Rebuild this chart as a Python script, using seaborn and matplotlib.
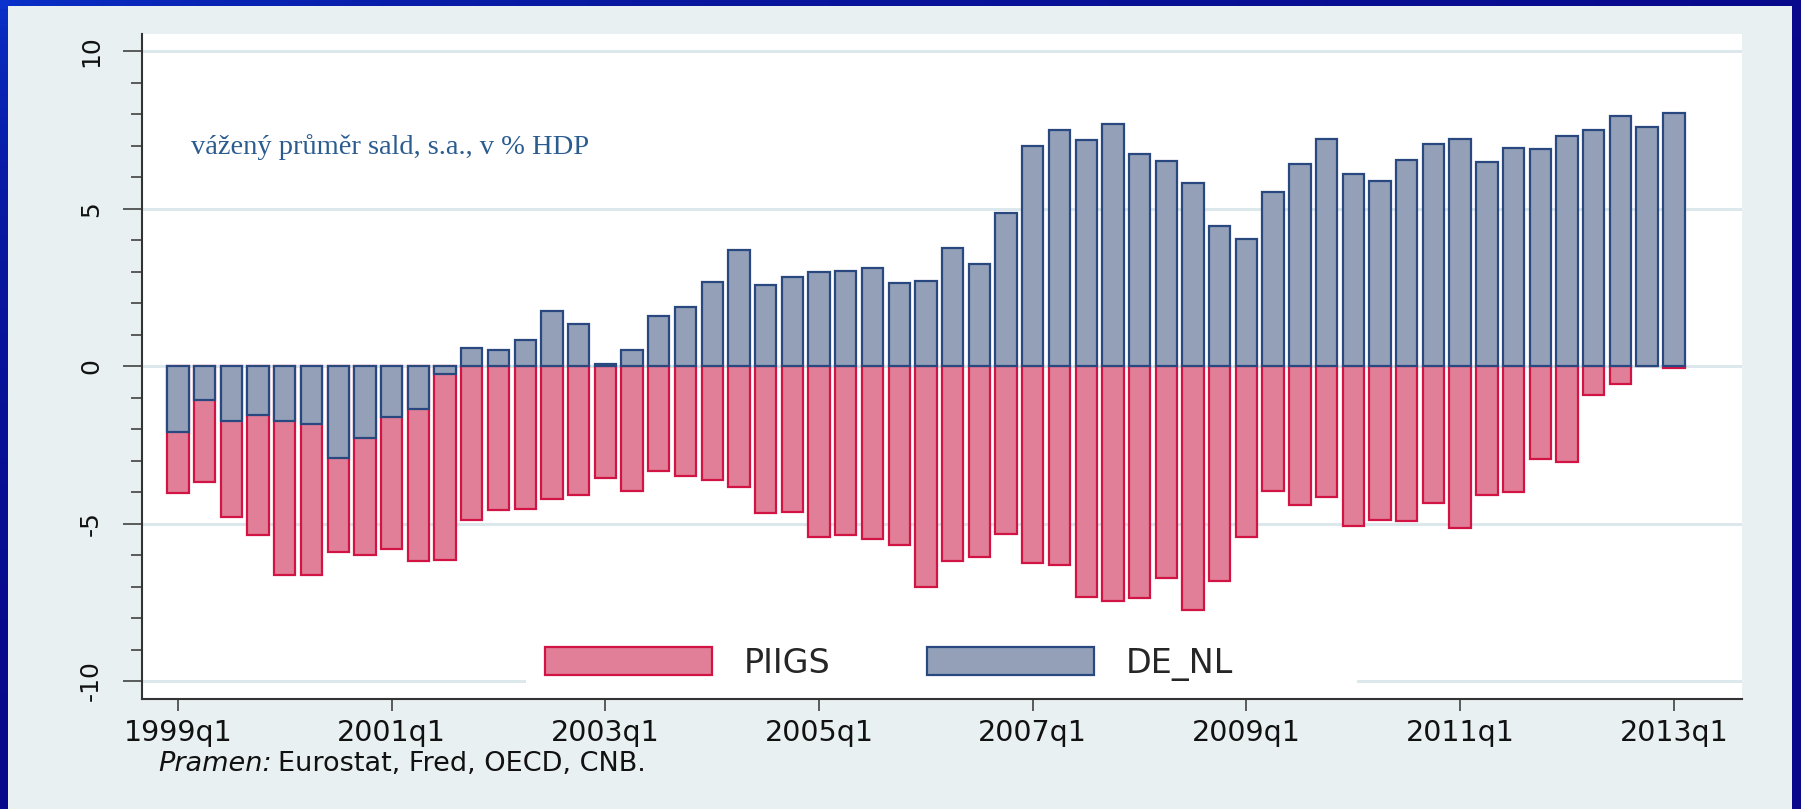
import numpy as np
import pandas as pd
import matplotlib
matplotlib.use("Agg")
import matplotlib.pyplot as plt
from matplotlib.colors import LinearSegmentedColormap
from matplotlib.patches import Rectangle
import seaborn as sns

# Quarterly weighted-average balances, % of GDP (s.a.)
quarters = [f"{y}q{q}" for y in range(1999, 2014) for q in range(1, 5)][:57]

piigs = [-4.02, -3.68, -4.79, -5.36, -6.62, -6.64, -5.90, -5.99, -5.79, -6.19,
         -6.15, -4.87, -4.56, -4.52, -4.22, -4.09, -3.54, -3.96, -3.34, -3.50,
         -3.62, -3.85, -4.67, -4.64, -5.41, -5.35, -5.48, -5.68, -7.01, -6.19,
         -6.06, -5.33, -6.24, -6.32, -7.33, -7.47, -7.37, -6.72, -7.73, -6.82,
         -5.43, -3.96, -4.40, -4.16, -5.08, -4.89, -4.93, -4.33, -5.13, -4.09,
         -3.98, -2.95, -3.05, -0.92, -0.57, 0.00, -0.06]

de_nl = [-2.09, -1.07, -1.74, -1.55, -1.74, -1.82, -2.91, -2.29, -1.62, -1.36,
         -0.24, 0.59, 0.52, 0.84, 1.76, 1.35, 0.07, 0.53, 1.60, 1.87,
         2.69, 3.68, 2.57, 2.83, 2.99, 3.03, 3.11, 2.63, 2.70, 3.77,
         3.26, 4.87, 7.01, 7.51, 7.18, 7.71, 6.74, 6.51, 5.82, 4.44,
         4.04, 5.55, 6.44, 7.22, 6.11, 5.90, 6.54, 7.05, 7.22, 6.48,
         6.94, 6.91, 7.31, 7.50, 7.96, 7.60, 8.04]

x_tick_labels = ["1999q1", "2001q1", "2003q1", "2005q1",
                 "2007q1", "2009q1", "2011q1", "2013q1"]
y_ticks = [-10, -5, 0, 5, 10]
y_tick_labels = ["-10", "-5", "0", "5", "10"]

series_names = ["PIIGS", "DE_NL"]

df = pd.DataFrame({"quarter": quarters, "PIIGS": piigs, "DE_NL": de_nl})

PIIGS_FILL, PIIGS_EDGE = "#E07F97", "#D21445"
DENL_FILL, DENL_EDGE = "#93A0B8", "#2A4880"
PANEL = "#E8F0F2"
GRID = "#DCE8EC"

sns.set_theme(style="white")
plt.rcParams["font.family"] = ["DejaVu Sans"]

W, H = 1801, 809
fig = plt.figure(figsize=(W / 100, H / 100), dpi=100)

# slide background: blue gradient
bg = fig.add_axes([0, 0, 1, 1], zorder=-10)
bg.set_axis_off()
yy, xx = np.mgrid[0:1:90j, 0:1:200j]
t = np.clip(0.9 * xx + 1.1 * yy, 0, 1) ** 0.6
cmap = LinearSegmentedColormap.from_list("slide", ["#0A32CC", "#0818A0", "#08088A"])
bg.imshow(t, cmap=cmap, aspect="auto", extent=[0, 1, 0, 1], origin="upper")

# light panel behind the graph
fig.patches.append(Rectangle((8 / W, 0), (1792 - 8) / W, (H - 6) / H,
                             transform=fig.transFigure, facecolor=PANEL,
                             edgecolor="none", zorder=-5))

left, right, top, bottom = 141.6, 1742, 33.5, 699
ax = fig.add_axes([left / W, (H - bottom) / H, (right - left) / W, (bottom - top) / H])
ax.set_facecolor("white")

sns.barplot(data=df, x="quarter", y="PIIGS", color=PIIGS_FILL, saturation=1,
            edgecolor=PIIGS_EDGE, linewidth=1.6, width=0.8, errorbar=None,
            label=series_names[0], ax=ax, zorder=2)
sns.barplot(data=df, x="quarter", y="DE_NL", color=DENL_FILL, saturation=1,
            edgecolor=DENL_EDGE, linewidth=1.6, width=0.8, errorbar=None,
            label=series_names[1], ax=ax, zorder=3)

ax.set_xlim(-1.36, 58.55)
ax.set_ylim(-10.57, 10.57)
ax.set_xlabel("")
ax.set_ylabel("")

ax.set_xticks(range(0, len(quarters), 8))
ax.set_xticklabels(x_tick_labels, fontsize=20.5, color="#111111")
ax.set_yticks(y_ticks)
ax.set_yticklabels(y_tick_labels, fontsize=18, rotation=90, va="center", color="#111111")
ax.set_yticks(range(-10, 11), minor=True)

ax.tick_params(axis="y", which="major", length=13.7, width=1.1, color="#333333",
               pad=14, left=True)
ax.tick_params(axis="y", which="minor", length=7.7, width=1.1, color="#333333", left=True)
ax.tick_params(axis="x", which="major", length=8.6, width=1.1, color="#333333",
               pad=6, bottom=True)

for side in ("top", "right"):
    ax.spines[side].set_visible(False)
for side in ("left", "bottom"):
    ax.spines[side].set_color("#333333")
    ax.spines[side].set_linewidth(1.5)

ax.set_axisbelow(True)
ax.yaxis.grid(True, which="major", color=GRID, linewidth=2.2)
ax.xaxis.grid(False)

# white box behind the legend
ax.add_patch(Rectangle((0.2402, 0.002), 0.5192, 0.113, transform=ax.transAxes,
                       facecolor="white", edgecolor="none", zorder=1))
leg = ax.legend(loc="center left", bbox_to_anchor=((545 - left) / (right - left), 0.0533),
                ncol=2, frameon=False, fontsize=24, handlelength=5.0,
                handleheight=0.87, handletextpad=0.96, columnspacing=2.9,
                borderpad=0, borderaxespad=0)
leg.set_zorder(10)

ax.text((191 - left) / (right - left), (bottom - 154) / (bottom - top),
        "vážený průměr sald, s.a., v % HDP", transform=ax.transAxes,
        fontsize=20.5, family="Liberation Serif", color="#2B5C8F",
        ha="left", va="baseline", zorder=6)

# source line
fy = (H - 764) / H
t1 = fig.text(158 / W, fy, "Pramen:", fontsize=19.5, style="italic",
              color="#111111", va="center")
fig.canvas.draw()
x1 = t1.get_window_extent().x1
fig.text((x1 + 6) / W, fy, "Eurostat, Fred, OECD, CNB.", fontsize=19.5,
         color="#111111", va="center")

fig.savefig("out.png", dpi=100)
